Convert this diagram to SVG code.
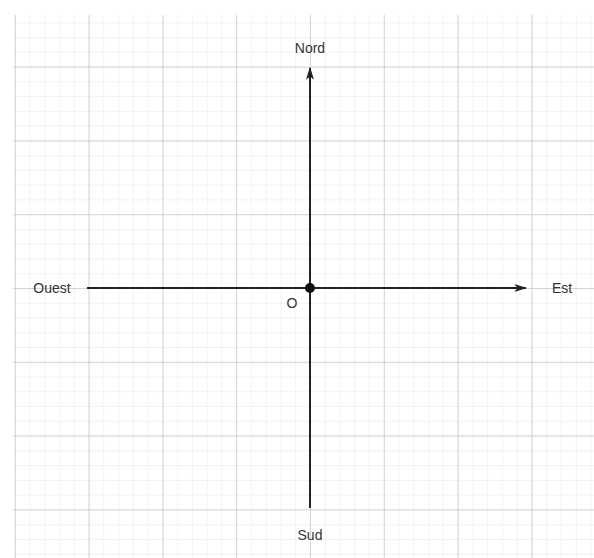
<svg xmlns="http://www.w3.org/2000/svg" width="594" height="558" viewBox="0 0 594 558">
  <defs>
    <pattern id="minor" patternUnits="userSpaceOnUse" x="14.8" y="66.6" width="14.76" height="14.76">
      <path d="M0 0H14.76M0 0V14.76" fill="none" stroke="#e6e6e6" stroke-width="1"/>
    </pattern>
    <pattern id="major" patternUnits="userSpaceOnUse" x="14.8" y="66.6" width="73.8" height="73.8">
      <path d="M0 0H73.8M0 0V73.8" fill="none" stroke="#c9c9c9" stroke-width="1.5"/>
    </pattern>
    <marker id="arrow" viewBox="0 0 10 10" refX="9" refY="5" markerWidth="13" markerHeight="10" orient="auto" markerUnits="userSpaceOnUse" preserveAspectRatio="none">
      <path d="M0 1 L10 5 L0 9 L2.5 5 Z" fill="#222"/>
    </marker>
    <style>
      .lbl { font-family: "Liberation Sans", Arial, sans-serif; font-size: 14px; fill: #333; }
      .axis { stroke: #222; stroke-width: 2; fill: none; }
    </style>
  </defs>
  <rect width="594" height="558" fill="#ffffff"/>
  <g id="grid">
    <rect x="13" y="15" width="581" height="543" fill="url(#minor)"/>
    <rect x="13" y="15" width="581" height="543" fill="url(#major)"/>
  </g>
  <g id="connectors">
    <path class="axis" d="M310 508 V68" marker-end="url(#arrow)"/>
    <path class="axis" d="M87 288 H526" marker-end="url(#arrow)"/>
  </g>
  <g id="origin">
    <circle cx="310" cy="288" r="5" fill="#111"/>
    <text class="lbl" x="292" y="308" text-anchor="middle">O</text>
  </g>
  <g id="nord"><text class="lbl" x="310" y="53" text-anchor="middle">Nord</text></g>
  <g id="sud"><text class="lbl" x="310" y="540" text-anchor="middle">Sud</text></g>
  <g id="ouest"><text class="lbl" x="52" y="293" text-anchor="middle">Ouest</text></g>
  <g id="est"><text class="lbl" x="562" y="293" text-anchor="middle">Est</text></g>
</svg>
